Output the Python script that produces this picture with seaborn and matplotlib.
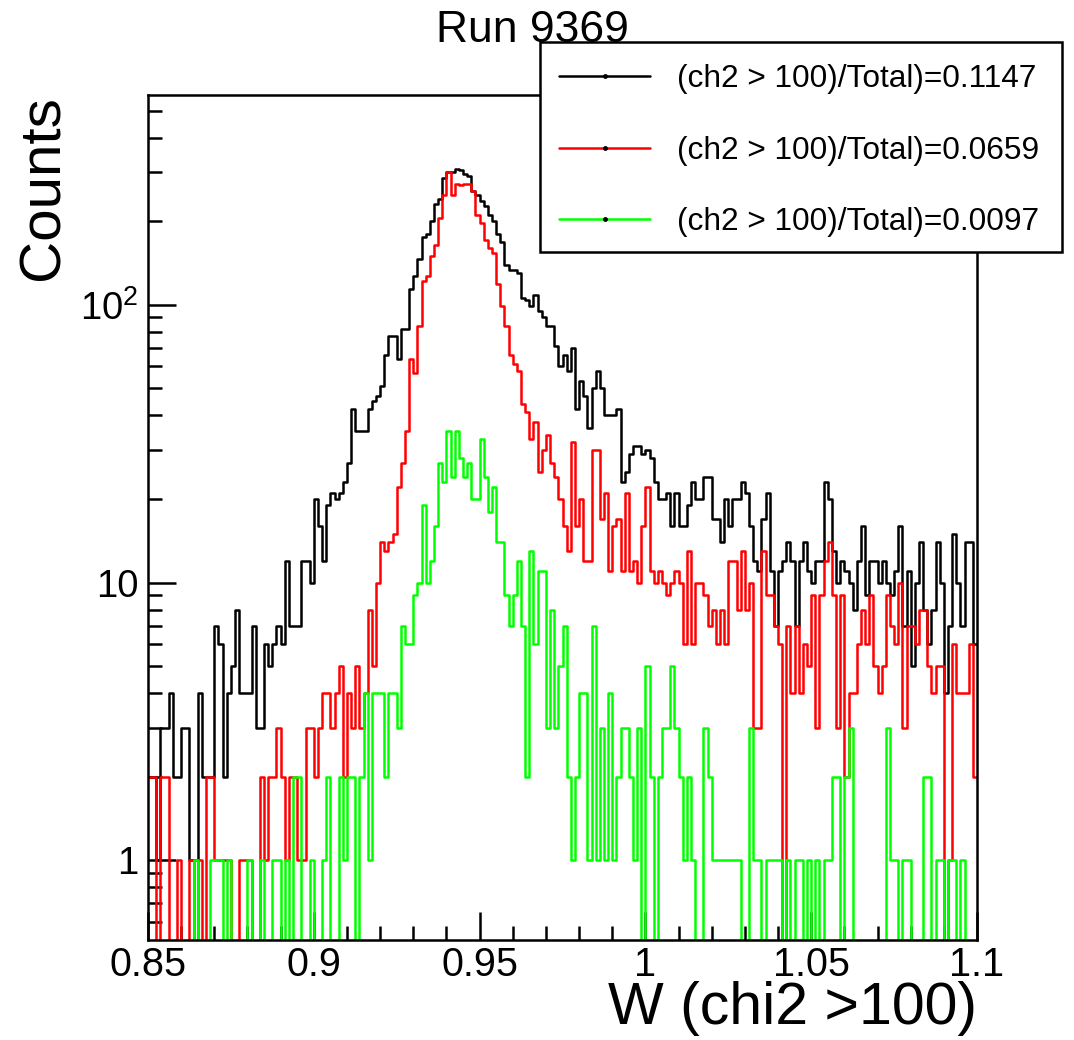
import numpy as np
import pandas as pd
import matplotlib
matplotlib.use("Agg")
import matplotlib.pyplot as plt
from matplotlib.patches import Rectangle
from matplotlib.lines import Line2D
from matplotlib.ticker import LogLocator, NullFormatter, FixedLocator, MultipleLocator
import seaborn as sns

# Binning of the W histogram: 200 bins between 0.85 and 1.1
w_min, w_max, n_bins = 0.85, 1.1, 200

counts_black = [
    2, 2, 1, 3, 3, 4, 2, 2, 3, 3,
    1, 1, 4, 2, 2, 2, 7, 6, 2, 4,
    5, 8, 4, 4, 4, 7, 3, 3, 6, 5,
    6, 7, 6, 12, 7, 7, 7, 12, 12, 10,
    20, 16, 12, 19, 21, 20, 21, 23, 27, 42,
    35, 35, 35, 42, 45, 47, 51, 66, 77, 77,
    64, 82, 82, 114, 127, 146, 176, 180, 200, 231,
    240, 285, 300, 300, 307, 305, 295, 290, 257, 248,
    236, 226, 210, 201, 180, 168, 139, 133, 133, 130,
    106, 104, 99, 108, 95, 90, 84, 84, 71, 60,
    66, 58, 70, 42, 53, 47, 36, 50, 58, 50,
    40, 40, 40, 42, 23, 25, 29, 31, 31, 29,
    30, 28, 23, 20, 20, 21, 16, 21, 16, 16,
    19, 23, 20, 20, 24, 24, 17, 17, 14, 20,
    16, 20, 20, 23, 21, 16, 12, 11, 17, 21,
    11, 7, 11, 12, 14, 12, 7, 12, 14, 11,
    10, 12, 12, 23, 20, 13, 10, 12, 11, 10,
    8, 12, 16, 9, 12, 12, 10, 12, 10, 9,
    11, 16, 7, 11, 5, 10, 14, 8, 6, 8,
    14, 10, 4, 7, 15, 10, 7, 14, 14, 6,
]

counts_red = [
    2, 2, 0, 2, 2, 0, 0, 1, 0, 0,
    1, 0, 1, 0, 2, 2, 1, 1, 1, 1,
    0, 0, 1, 1, 1, 0, 0, 2, 1, 2,
    2, 3, 2, 1, 2, 2, 1, 1, 3, 3,
    2, 3, 4, 4, 3, 4, 5, 2, 4, 3,
    5, 3, 4, 8, 5, 10, 14, 13, 14, 15,
    22, 27, 35, 64, 57, 84, 122, 127, 150, 164,
    206, 248, 300, 248, 272, 270, 272, 272, 257, 210,
    197, 171, 160, 153, 119, 99, 84, 66, 61, 58,
    44, 41, 33, 38, 25, 30, 34, 27, 24, 20,
    16, 13, 32, 16, 20, 12, 12, 30, 30, 17,
    21, 11, 16, 17, 11, 21, 11, 12, 10, 16,
    22, 11, 10, 11, 10, 9, 10, 11, 10, 6,
    13, 6, 10, 10, 9, 7, 8, 6, 8, 6,
    12, 12, 8, 13, 8, 10, 3, 3, 13, 9,
    9, 7, 6, 0, 7, 4, 7, 4, 6, 5,
    9, 3, 9, 12, 14, 9, 3, 9, 2, 4,
    4, 6, 8, 6, 9, 5, 4, 5, 9, 7,
    6, 10, 3, 7, 7, 6, 8, 8, 5, 4,
    5, 5, 0, 1, 6, 4, 4, 4, 6, 2,
]

counts_green = [
    0, 0, 0, 0, 0, 0, 0, 0, 0, 0,
    0, 1, 0, 0, 0, 1, 1, 1, 0, 1,
    0, 0, 0, 0, 1, 0, 0, 1, 0, 0,
    1, 1, 0, 1, 0, 2, 2, 0, 0, 1,
    0, 0, 1, 2, 0, 0, 2, 1, 2, 2,
    0, 2, 4, 1, 4, 4, 4, 2, 4, 4,
    3, 7, 6, 6, 9, 10, 19, 10, 12, 16,
    27, 23, 35, 24, 35, 28, 24, 27, 20, 20,
    33, 24, 18, 22, 14, 14, 9, 7, 9, 12,
    7, 2, 13, 6, 11, 11, 3, 8, 3, 5,
    7, 2, 1, 2, 4, 4, 1, 7, 1, 3,
    1, 4, 1, 2, 3, 3, 2, 1, 3, 0,
    5, 2, 0, 2, 3, 3, 5, 3, 2, 1,
    2, 1, 0, 0, 3, 2, 1, 1, 1, 1,
    1, 1, 1, 0, 0, 3, 1, 1, 0, 1,
    1, 1, 1, 0, 1, 0, 1, 1, 0, 1,
    0, 1, 0, 1, 1, 2, 2, 0, 2, 3,
    0, 0, 0, 0, 0, 0, 0, 0, 3, 1,
    1, 0, 1, 1, 0, 0, 0, 2, 2, 0,
    1, 1, 0, 1, 1, 0, 1, 0, 0, 0,
]

series_labels = [
    "(ch2 > 100)/Total)=0.1147",
    "(ch2 > 100)/Total)=0.0659",
    "(ch2 > 100)/Total)=0.0097",
]
series_colors = ["#000000", "#ff0000", "#00ff00"]

x_ticks = [0.85, 0.9, 0.95, 1.0, 1.05, 1.1]
x_tick_labels = ["0.85", "0.9", "0.95", "1", "1.05", "1.1"]
y_ticks = [1, 10, 100]
y_tick_labels = ["1", "10", r"$\mathregular{10^{2}}$"]

title_text = "Run 9369"
x_title = "W (chi2 >100)"
y_title = "Counts"

# ---------------------------------------------------------------- style
sns.set_style("ticks")
plt.rcParams["font.family"] = ["Liberation Sans", "DejaVu Sans"]
plt.rcParams["mathtext.fontset"] = "custom"
plt.rcParams["mathtext.rm"] = "Liberation Sans"
for key in ["text.color", "axes.labelcolor", "xtick.color", "ytick.color",
            "axes.edgecolor"]:
    plt.rcParams[key] = "black"
plt.rcParams["axes.linewidth"] = 1.8

W, H = 1074, 1040
fig = plt.figure(figsize=(W / 100, H / 100), dpi=100)
fig.patch.set_facecolor("white")

# frame in pixel coordinates
fl, fr, ft, fb = 148, 977, 95, 940
ax = fig.add_axes([fl / W, 1 - fb / H, (fr - fl) / W, (fb - ft) / H])
ax.set_facecolor("white")

edges = np.linspace(w_min, w_max, n_bins + 1)
centers = 0.5 * (edges[:-1] + edges[1:])

all_counts = [counts_black, counts_red, counts_green]
df = pd.DataFrame({
    "W": np.tile(centers, len(all_counts)),
    "Counts": np.concatenate([np.asarray(c, dtype=float) for c in all_counts]),
    "Series": np.repeat(series_labels, n_bins),
})

for label, color in zip(series_labels, series_colors):
    sub = df[df["Series"] == label]
    sns.histplot(data=sub, x="W", weights="Counts", bins=n_bins,
                 binrange=(w_min, w_max), element="step", fill=False,
                 color=color, linewidth=1.8, ax=ax)

ax.set_yscale("log")
ax.set_xlim(w_min, w_max)
ax.set_ylim(0.517, 569)

# ticks
ax.xaxis.set_major_locator(FixedLocator(x_ticks))
ax.set_xticklabels(x_tick_labels)
ax.xaxis.set_minor_locator(MultipleLocator(0.01))
ax.yaxis.set_major_locator(FixedLocator(y_ticks))
ax.set_yticklabels(y_tick_labels)
ax.yaxis.set_minor_locator(LogLocator(base=10, subs=np.arange(2, 10)))
ax.yaxis.set_minor_formatter(NullFormatter())
ax.tick_params(axis="both", which="major", direction="in", length=20,
               width=1.8, labelsize=27.5, top=False, right=False,
               colors="black")
ax.tick_params(axis="x", which="major", labelsize=28.5)
ax.tick_params(axis="both", which="minor", direction="in", length=10,
               width=1.8, top=False, right=False, colors="black")
ax.tick_params(axis="x", which="major", pad=4)
ax.tick_params(axis="y", which="major", pad=7)
for sp in ax.spines.values():
    sp.set_color("black")
    sp.set_linewidth(1.8)

# axis titles
ax.set_xlabel(x_title, loc="right", fontsize=42.5, color="black")
ax.xaxis.set_label_coords(1.0, -0.048)
ax.set_ylabel(y_title, loc="top", fontsize=42, color="black")
ax.yaxis.set_label_coords(-0.094, 1.0)

# title
fig.text(532 / W, 1 - 30 / H, title_text, ha="center", va="center",
         fontsize=32, color="black")

# legend box
lx0, lx1, ly0, ly1 = 540, 1062, 42, 252
box = Rectangle((lx0 / W, 1 - ly1 / H), (lx1 - lx0) / W, (ly1 - ly0) / H,
                transform=fig.transFigure, facecolor="white",
                edgecolor="black", linewidth=1.8, zorder=4)
fig.add_artist(box)

handles = [Line2D([], [], color=c, linewidth=1.8, marker="o", markersize=2.5,
                  markerfacecolor="black", markeredgecolor="black")
           for c in series_colors]
leg = fig.legend(handles, series_labels, loc="upper left",
                 bbox_to_anchor=(559 / W, 1 - 64.5 / H), frameon=False,
                 fontsize=22.75, handlelength=2.88, handletextpad=0.85,
                 labelspacing=1.30, borderpad=0, borderaxespad=0)
for t in leg.get_texts():
    t.set_color("black")
leg.set_zorder(5)

fig.savefig("out.png", dpi=100, facecolor="white")
